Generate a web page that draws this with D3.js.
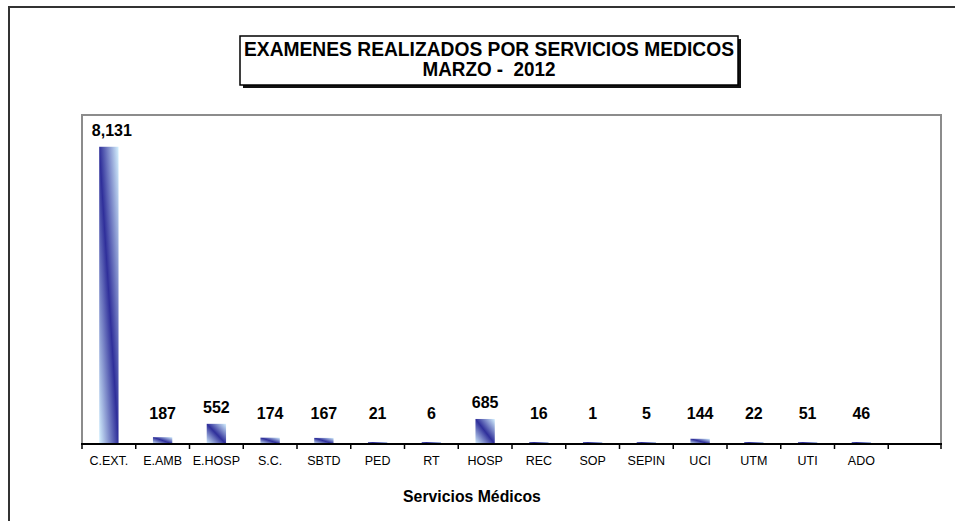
<!DOCTYPE html>
<html lang="es">
<head>
    <meta charset="UTF-8">
    <title>Examenes realizados por servicios medicos</title>
    <script src="https://d3js.org/d3.v7.min.js"></script>
    <style>
        body {
            margin: 0;
            background: #fff;
            font-family: Arial, "Liberation Sans", sans-serif;
        }
        svg { display: block; }
        .tick-label { font-size: 12.5px; fill: #000; }
        .value-label { font-size: 16px; font-weight: bold; fill: #000; }
    </style>
</head>
<body>
    <script>
        // Data
        const categories = ["C.EXT.", "E.AMB", "E.HOSP", "S.C.", "SBTD", "PED", "RT", "HOSP",
                            "REC", "SOP", "SEPIN", "UCI", "UTM", "UTI", "ADO"];
        const values = [8131, 187, 552, 174, 167, 21, 6, 685, 16, 1, 5, 144, 22, 51, 46];
        const titleLines = ["EXAMENES REALIZADOS POR SERVICIOS MEDICOS", "MARZO -  2012"];
        const axisTitle = "Servicios Médicos";

        const width = 955;
        const height = 521;
        const plot = {left: 82, top: 115, right: 941, bottom: 444};

        const svg = d3.select("body")
            .append("svg")
            .attr("width", width)
            .attr("height", height);

        // Bar gradient: dark along the diagonal, light at two corners
        const grad = svg.append("defs")
            .append("linearGradient")
            .attr("id", "barFill")
            .attr("x1", 0).attr("y1", 1)
            .attr("x2", 1).attr("y2", 0);
        grad.append("stop").attr("offset", "0%").attr("stop-color", "#d6f2ff");
        grad.append("stop").attr("offset", "50%").attr("stop-color", "#2f2f9a");
        grad.append("stop").attr("offset", "100%").attr("stop-color", "#d6f2ff");

        // Outer frame (right and bottom edges fall outside the picture)
        svg.append("path")
            .attr("d", `M9,${height} V7 H${width}`)
            .attr("fill", "none")
            .attr("stroke", "#333")
            .attr("stroke-width", 2);

        // Title box with shadow
        const tb = {x: 240, y: 36, w: 498, h: 49};
        svg.append("rect")
            .attr("x", tb.x + 3).attr("y", tb.y + 3)
            .attr("width", tb.w).attr("height", tb.h)
            .attr("fill", "#111");
        svg.append("rect")
            .attr("x", tb.x).attr("y", tb.y)
            .attr("width", tb.w).attr("height", tb.h)
            .attr("fill", "#fff")
            .attr("stroke", "#000")
            .attr("stroke-width", 1.5);

        svg.append("text")
            .attr("x", tb.x + tb.w / 2).attr("y", 56)
            .attr("text-anchor", "middle")
            .attr("font-size", 19.5).attr("font-weight", "bold")
            .attr("textLength", 490).attr("lengthAdjust", "spacingAndGlyphs")
            .text(titleLines[0]);
        svg.append("text")
            .attr("x", tb.x + tb.w / 2).attr("y", 76)
            .attr("text-anchor", "middle")
            .attr("font-size", 19.5).attr("font-weight", "bold")
            .attr("textLength", 133).attr("lengthAdjust", "spacingAndGlyphs")
            .style("white-space", "pre")
            .text(titleLines[1]);

        // Scales: one spare empty slot at the end of the axis
        const slots = categories.concat([""]);
        const x = d3.scaleBand()
            .domain(d3.range(slots.length))
            .range([plot.left, plot.right + 1]);
        const y = d3.scaleLinear()
            .domain([0, 9000])
            .range([plot.bottom, plot.top]);

        // Plot area border
        svg.append("rect")
            .attr("x", plot.left).attr("y", plot.top)
            .attr("width", plot.right - plot.left)
            .attr("height", plot.bottom - plot.top)
            .attr("fill", "none")
            .attr("stroke", "#8c8c8c")
            .attr("stroke-width", 2);

        // Bars (very small values still show a thin sliver, as in the original)
        const barW = x.bandwidth() * 0.36;
        svg.selectAll("rect.bar")
            .data(values)
            .enter()
            .append("rect")
            .attr("class", "bar")
            .attr("x", (d, i) => x(i) + x.bandwidth() / 2 - barW / 2)
            .attr("y", d => Math.min(y(d), y(0) - 2))
            .attr("width", barW)
            .attr("height", d => Math.max(y(0) - y(d), 2))
            .attr("fill", "url(#barFill)");

        // Value labels
        svg.selectAll("text.value-label")
            .data(values)
            .enter()
            .append("text")
            .attr("class", "value-label")
            .attr("x", (d, i) => x(i) + x.bandwidth() / 2 + (i === 0 ? 3 : 0))
            .attr("y", d => Math.min(y(d) - 11, 419))
            .attr("text-anchor", "middle")
            .text(d => d3.format(",")(d));

        // X axis with ticks between categories
        const axis = svg.append("g");
        axis.append("line")
            .attr("x1", plot.left - 1).attr("x2", plot.right + 1)
            .attr("y1", plot.bottom).attr("y2", plot.bottom)
            .attr("stroke", "#000")
            .attr("stroke-width", 2);
        axis.selectAll("line.tick")
            .data(d3.range(slots.length + 1))
            .enter()
            .append("line")
            .attr("class", "tick")
            .attr("x1", i => i < slots.length ? x(i) : plot.right)
            .attr("x2", i => i < slots.length ? x(i) : plot.right)
            .attr("y1", plot.bottom)
            .attr("y2", plot.bottom + 5)
            .attr("stroke", "#000")
            .attr("stroke-width", 1.5);
        axis.selectAll("text.tick-label")
            .data(categories)
            .enter()
            .append("text")
            .attr("class", "tick-label")
            .attr("x", (d, i) => x(i) + x.bandwidth() / 2)
            .attr("y", 465)
            .attr("text-anchor", "middle")
            .text(d => d);

        svg.append("text")
            .attr("x", 472).attr("y", 502)
            .attr("text-anchor", "middle")
            .attr("font-size", 15.8).attr("font-weight", "bold")
            .text(axisTitle);
    </script>
</body>
</html>
